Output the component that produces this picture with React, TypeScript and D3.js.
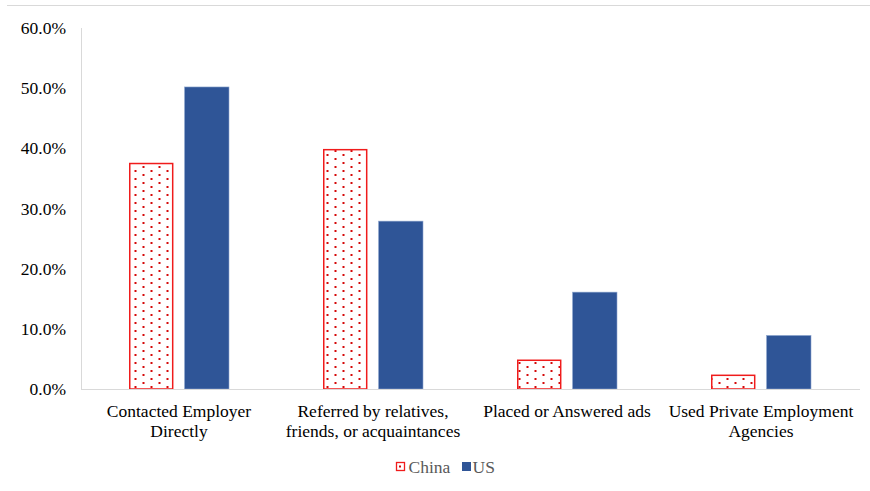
import React from "react";
import * as d3 from "d3";

// Job-search methods, share of respondents by country
const categories = [
  ["Contacted Employer", "Directly"],
  ["Referred by relatives,", "friends, or acquaintances"],
  ["Placed or Answered ads"],
  ["Used Private Employment", "Agencies"],
];
const categoryKeys = categories.map((c) => c.join(" "));
const seriesNames = ["China", "US"];
const chinaValues = [0.376, 0.399, 0.049, 0.024];
const usValues = [0.502, 0.279, 0.161, 0.089];
const yTicks = [0, 0.1, 0.2, 0.3, 0.4, 0.5, 0.6];

const W = 870;
const H = 491;
const FONT = "'Liberation Serif', 'Times New Roman', serif";
const US_BLUE = "#2F5597";
const CHINA_RED = "#F01C1C";
const DOT_RED = "#D40A0A";
const AXIS_GRAY = "#D9D9D9";

export default function App() {
  const y = d3.scaleLinear().domain([0, 0.6]).range([389, 28]);
  const x = d3.scaleBand().domain(categoryKeys).range([82, 858]).padding(0);
  const xs = d3
    .scaleBand()
    .domain(seriesNames)
    .range([-50, 50])
    .paddingInner(0.2);
  const fmt = d3.format(".1%");
  const valuesBySeries: Record<string, number[]> = {
    China: chinaValues,
    US: usValues,
  };

  return (
    <svg
      width={W}
      height={H}
      style={{ position: "absolute", left: 0, top: 0, background: "#fff" }}
      fontFamily={FONT}
    >
      <defs>
        <pattern
          id="dots"
          patternUnits="userSpaceOnUse"
          width={16}
          height={8}
          x={6.5}
          y={2}
        >
          <rect width={16} height={8} fill="#fff" />
          <rect x={0} y={0} width={2} height={2} fill={DOT_RED} />
          <rect x={8} y={4} width={2} height={2} fill={DOT_RED} />
        </pattern>
        <pattern
          id="dotsLegend"
          patternUnits="userSpaceOnUse"
          width={8}
          height={8}
          x={399}
          y={465.5}
        >
          <rect width={8} height={8} fill="#fff" />
          <rect x={0} y={0} width={2} height={2} fill={DOT_RED} />
        </pattern>
      </defs>

      {/* chart frame top edge */}
      <line x1={7} x2={W} y1={5.5} y2={5.5} stroke={AXIS_GRAY} strokeWidth={1} />

      {/* y axis */}
      <line
        x1={81.5}
        x2={81.5}
        y1={y(0.6)}
        y2={y(0)}
        stroke={AXIS_GRAY}
        strokeWidth={1}
      />
      {yTicks.map((t) => (
        <text
          key={t}
          x={66}
          y={y(t)}
          dy="0.35em"
          textAnchor="end"
          fontSize={17.5}
          fill="#000"
        >
          {fmt(t)}
        </text>
      ))}

      {/* bars */}
      {seriesNames.map((s) =>
        categoryKeys.map((k, i) => {
          const v = valuesBySeries[s][i];
          const cx = (x(k) as number) + x.bandwidth() / 2;
          const bx = cx + (xs(s) as number);
          const bw = xs.bandwidth();
          const top = y(v);
          const h = y(0) - top;
          return s === "China" ? (
            <rect
              key={s + k}
              x={bx + 0.75}
              y={top + 0.75}
              width={bw - 1.5}
              height={h - 0.75}
              fill="url(#dots)"
              stroke={CHINA_RED}
              strokeWidth={1.5}
            />
          ) : (
            <rect
              key={s + k}
              x={bx}
              y={top}
              width={bw}
              height={h}
              fill={US_BLUE}
              stroke="#8EA6CF"
              strokeWidth={0.6}
            />
          );
        })
      )}

      {/* x axis baseline */}
      <line
        x1={81}
        x2={860}
        y1={389.5}
        y2={389.5}
        stroke={AXIS_GRAY}
        strokeWidth={1.2}
      />

      {/* category labels */}
      {categories.map((lines, i) => {
        const cx = (x(categoryKeys[i]) as number) + x.bandwidth() / 2;
        return (
          <text key={i} textAnchor="middle" fontSize={17.5} fill="#000">
            {lines.map((ln, j) => (
              <tspan key={j} x={cx} y={416.5 + j * 20}>
                {ln}
              </tspan>
            ))}
          </text>
        );
      })}

      {/* legend */}
      <g>
        <rect
          x={396.5}
          y={462.5}
          width={8}
          height={8}
          fill="url(#dotsLegend)"
          stroke={CHINA_RED}
          strokeWidth={1.3}
        />
        <text x={408.5} y={467} dy="0.35em" fontSize={17.5} fill="#595959">
          China
        </text>
        <rect x={462} y={462} width={9} height={9} fill={US_BLUE} />
        <text x={472.5} y={467} dy="0.35em" fontSize={17.5} fill="#595959">
          US
        </text>
      </g>
    </svg>
  );
}
